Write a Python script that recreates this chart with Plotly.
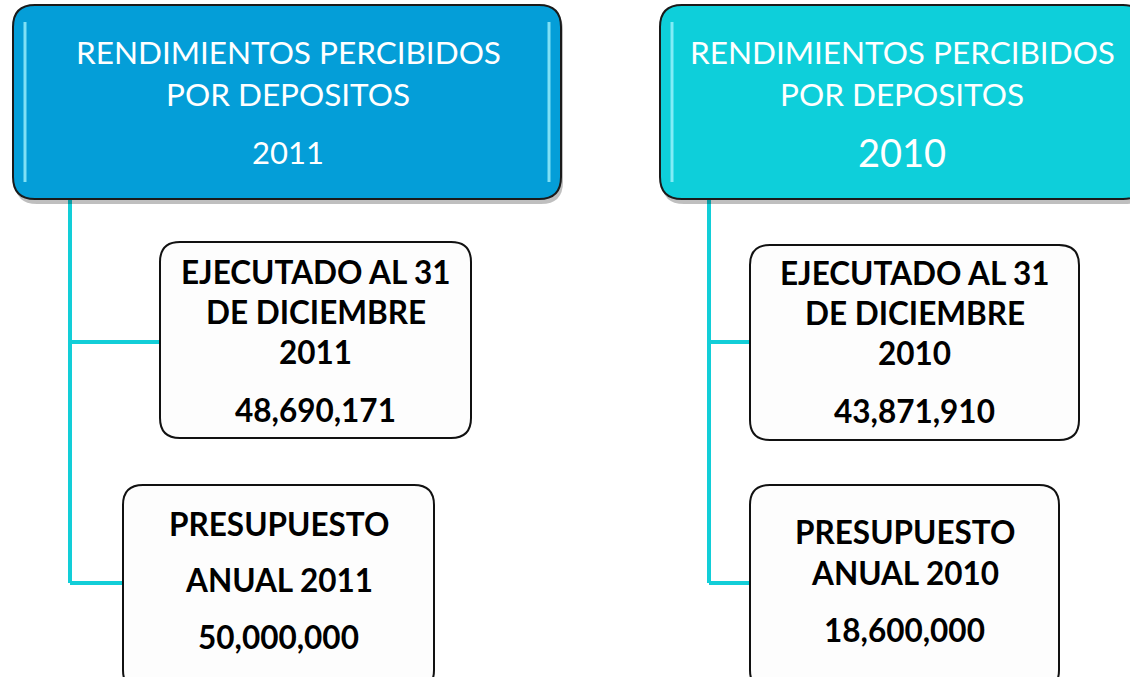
import plotly.graph_objects as go

# panel contents (left = 2011, right = 2010)
header_lines = ["RENDIMIENTOS PERCIBIDOS", "POR DEPOSITOS"]
years = ["2011", "2010"]
ejecutado_label = ["EJECUTADO AL 31", "DE DICIEMBRE"]
ejecutado_values = ["48,690,171", "43,871,910"]
presupuesto_label = ["PRESUPUESTO", "ANUAL"]
presupuesto_values = ["50,000,000", "18,600,000"]

header_colors = ["#049ED8", "#0ECFDA"]
line_color = "#12CED8"
W, H = 1130, 677


def rounded_rect(x0, y0, x1, y1, r):
    return (f"M {x0+r},{y0} L {x1-r},{y0} Q {x1},{y0} {x1},{y0+r} "
            f"L {x1},{y1-r} Q {x1},{y1} {x1-r},{y1} "
            f"L {x0+r},{y1} Q {x0},{y1} {x0},{y1-r} "
            f"L {x0},{y0+r} Q {x0},{y0} {x0+r},{y0} Z")


fig = go.Figure()
shapes = []
annotations = []


def text(x, y, s, size, color="black", bold=False):
    annotations.append(dict(
        x=x, y=y, text=f"<b>{s}</b>" if bold else s, showarrow=False,
        xanchor="center", yanchor="middle",
        font=dict(family="Lato", size=size, color=color)))


# layout of the two panels
panels = [
    dict(hx0=13, hx1=561, hcx=288, trunk=70, yr_size=31,
         b1=(160, 242, 471, 438), b2=(123, 485, 434, 690),
         b1y=[272, 312, 352, 410], b2y=[524, 580, 637]),
    dict(hx0=660, hx1=1145, hcx=902, trunk=709, yr_size=38,
         b1=(750, 245, 1079, 440), b2=(750, 485, 1059, 690),
         b1y=[273, 313, 353, 411], b2y=[532, 573, 630]),
]

for i, p in enumerate(panels):
    # connector lines
    t = p["trunk"]
    for seg in [(t, 198, t, 583), (t, 342, p["b1"][0], 342), (t, 583, p["b2"][0], 583)]:
        shapes.append(dict(type="line", x0=seg[0], y0=seg[1], x1=seg[2], y1=seg[3],
                           line=dict(color=line_color, width=4), layer="below"))

    # header shadow + box
    shapes.append(dict(type="path", path=rounded_rect(p["hx0"] + 2, 8, p["hx1"] + 2, 204, 22),
                       fillcolor="rgba(0,0,0,0.25)", line=dict(width=0)))
    shapes.append(dict(type="path", path=rounded_rect(p["hx0"], 5, p["hx1"], 199, 22),
                       fillcolor=header_colors[i], line=dict(color="#1a1a1a", width=2)))
    # soft highlight strips inside the header
    for hx in (p["hx0"] + 12, p["hx1"] - 12):
        shapes.append(dict(type="line", x0=hx, y0=22, x1=hx, y1=182,
                           line=dict(color="rgba(170,245,255,0.75)", width=3)))

    text(p["hcx"], 52, header_lines[0], 31.5, "white")
    text(p["hcx"], 94, header_lines[1], 31.5, "white")
    text(p["hcx"], 152, years[i], p["yr_size"], "white")

    # white boxes
    for bx in (p["b1"], p["b2"]):
        shapes.append(dict(type="path", path=rounded_rect(*bx, 20),
                           fillcolor="#FDFDFD", line=dict(color="#111111", width=2)))

    cx1 = (p["b1"][0] + p["b1"][2]) / 2
    lines1 = [ejecutado_label[0], ejecutado_label[1], years[i], ejecutado_values[i]]
    for s, y in zip(lines1, p["b1y"]):
        text(cx1, y, s, 31.5, bold=True)

    cx2 = (p["b2"][0] + p["b2"][2]) / 2
    lines2 = [presupuesto_label[0], f"{presupuesto_label[1]} {years[i]}", presupuesto_values[i]]
    for s, y in zip(lines2, p["b2y"]):
        text(cx2, y, s, 31.5, bold=True)

fig.update_layout(
    width=W, height=H,
    margin=dict(l=0, r=0, t=0, b=0),
    paper_bgcolor="white", plot_bgcolor="white",
    xaxis=dict(range=[0, W], visible=False, fixedrange=True),
    yaxis=dict(range=[H, 0], visible=False, fixedrange=True),
    shapes=shapes, annotations=annotations,
    showlegend=False,
)

# drop the browser's default body margin so the figure sits at the window origin
fig.write_html("out.html", config={"displayModeBar": False},
               post_script="document.body.style.margin='0';document.body.style.overflow='hidden';")
